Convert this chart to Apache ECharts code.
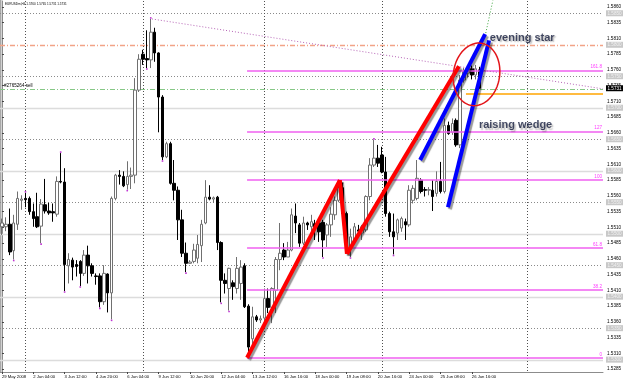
<!DOCTYPE html>
<html>
<head>
<meta charset="utf-8">
<script src="https://cdn.jsdelivr.net/npm/echarts@6/dist/echarts.min.js"></script>
<style>
  html, body { margin: 0; padding: 0; background: #ffffff; }
  #chart { width: 625px; height: 382px; }
</style>
</head>
<body>
<div id="chart"></div>
<script>
// EURUSDm H4, 29 May - 27 Jun 2008

// one label every 8 bars
var xTickLabels = ['29 May 2008', '2 Jun 04:00', '3 Jun 12:00', '4 Jun 20:00', '6 Jun 04:00',
    '9 Jun 12:00', '10 Jun 20:00', '12 Jun 04:00', '13 Jun 12:00', '16 Jun 16:00', '18 Jun 00:00',
    '19 Jun 08:00', '20 Jun 16:00', '24 Jun 00:00', '25 Jun 08:00', '26 Jun 16:00'];

var yTicks = [1.5285, 1.5310, 1.5335, 1.5360, 1.5385, 1.5410, 1.5435, 1.5460, 1.5485, 1.5510,
    1.5535, 1.5560, 1.5585, 1.5610, 1.5635, 1.5660, 1.5685, 1.5710, 1.5735, 1.5760, 1.5785,
    1.5810, 1.5835, 1.5860];

// [open, close, low, high]
var candles = [
    [1.5511, 1.5517, 1.5498, 1.5524], [1.5511, 1.5515, 1.5504, 1.5526], [1.5515, 1.5471, 1.5466, 1.5540],
    [1.5473, 1.5517, 1.5459, 1.5530], [1.5515, 1.5556, 1.5506, 1.5567], [1.5553, 1.5555, 1.5538, 1.5561],
    [1.5556, 1.5554, 1.5542, 1.5565], [1.5556, 1.5535, 1.5530, 1.5559], [1.5535, 1.5524, 1.5511, 1.5548],
    [1.5527, 1.5511, 1.5509, 1.5565], [1.5512, 1.5547, 1.5485, 1.5555], [1.5546, 1.5536, 1.5532, 1.5587],
    [1.5536, 1.5533, 1.5530, 1.5549], [1.5535, 1.5533, 1.5519, 1.5548], [1.5531, 1.5583, 1.5527, 1.5591],
    [1.5583, 1.5582, 1.5580, 1.5628], [1.5582, 1.5451, 1.5409, 1.5604], [1.5449, 1.5459, 1.5421, 1.5469],
    [1.5458, 1.5447, 1.5426, 1.5462], [1.5451, 1.5448, 1.5432, 1.5458], [1.5456, 1.5437, 1.5417, 1.5458],
    [1.5437, 1.5466, 1.5433, 1.5474], [1.5466, 1.5449, 1.5421, 1.5481], [1.5449, 1.5437, 1.5432, 1.5453],
    [1.5433, 1.5432, 1.5419, 1.5437], [1.5433, 1.5392, 1.5383, 1.5437], [1.5392, 1.5437, 1.5387, 1.5450],
    [1.5436, 1.5406, 1.5375, 1.5437], [1.5406, 1.5556, 1.5364, 1.5559], [1.5556, 1.5593, 1.5553, 1.5595],
    [1.5593, 1.5591, 1.5578, 1.5601], [1.5591, 1.5576, 1.5574, 1.5599], [1.5578, 1.5591, 1.5570, 1.5615],
    [1.5591, 1.5593, 1.5571, 1.5605], [1.5593, 1.5728, 1.5580, 1.5747], [1.5728, 1.5777, 1.5725, 1.5785],
    [1.5785, 1.5777, 1.5768, 1.5792], [1.5778, 1.5776, 1.5763, 1.5823], [1.5776, 1.5820, 1.5763, 1.5841],
    [1.5820, 1.5787, 1.5773, 1.5827], [1.5787, 1.5717, 1.5661, 1.5788], [1.5717, 1.5622, 1.5617, 1.5720],
    [1.5622, 1.5643, 1.5620, 1.5646], [1.5643, 1.5580, 1.5578, 1.5646], [1.5580, 1.5569, 1.5553, 1.5617],
    [1.5569, 1.5522, 1.5490, 1.5575], [1.5522, 1.5469, 1.5463, 1.5538], [1.5469, 1.5453, 1.5439, 1.5486],
    [1.5453, 1.5455, 1.5453, 1.5458], [1.5456, 1.5474, 1.5453, 1.5484], [1.5461, 1.5483, 1.5453, 1.5498],
    [1.5481, 1.5515, 1.5455, 1.5522], [1.5517, 1.5558, 1.5515, 1.5585], [1.5558, 1.5555, 1.5553, 1.5577],
    [1.5555, 1.5557, 1.5549, 1.5559], [1.5558, 1.5486, 1.5474, 1.5560], [1.5486, 1.5426, 1.5391, 1.5488],
    [1.5426, 1.5421, 1.5405, 1.5437], [1.5413, 1.5445, 1.5378, 1.5446], [1.5422, 1.5416, 1.5395, 1.5426],
    [1.5413, 1.5445, 1.5405, 1.5463], [1.5421, 1.5447, 1.5395, 1.5458], [1.5449, 1.5384, 1.5382, 1.5453],
    [1.5385, 1.5320, 1.5305, 1.5388], [1.5333, 1.5368, 1.5320, 1.5384], [1.5368, 1.5363, 1.5360, 1.5371],
    [1.5363, 1.5365, 1.5358, 1.5370], [1.5366, 1.5397, 1.5361, 1.5413], [1.5397, 1.5383, 1.5374, 1.5413],
    [1.5383, 1.5413, 1.5358, 1.5415], [1.5410, 1.5459, 1.5374, 1.5463], [1.5459, 1.5469, 1.5442, 1.5517],
    [1.5474, 1.5463, 1.5458, 1.5485], [1.5463, 1.5474, 1.5463, 1.5487], [1.5474, 1.5530, 1.5472, 1.5540],
    [1.5528, 1.5517, 1.5501, 1.5548], [1.5514, 1.5485, 1.5479, 1.5517], [1.5485, 1.5517, 1.5482, 1.5527],
    [1.5517, 1.5514, 1.5506, 1.5519], [1.5511, 1.5519, 1.5493, 1.5530], [1.5516, 1.5511, 1.5490, 1.5522],
    [1.5517, 1.5503, 1.5487, 1.5522], [1.5518, 1.5490, 1.5463, 1.5522], [1.5498, 1.5514, 1.5479, 1.5517],
    [1.5514, 1.5531, 1.5495, 1.5542], [1.5530, 1.5553, 1.5522, 1.5559], [1.5553, 1.5573, 1.5550, 1.5584],
    [1.5573, 1.5532, 1.5530, 1.5581], [1.5532, 1.5479, 1.5469, 1.5535], [1.5479, 1.5495, 1.5463, 1.5508],
    [1.5490, 1.5511, 1.5487, 1.5517], [1.5506, 1.5504, 1.5498, 1.5514], [1.5501, 1.5511, 1.5490, 1.5514],
    [1.5506, 1.5559, 1.5503, 1.5561], [1.5559, 1.5609, 1.5553, 1.5620], [1.5609, 1.5620, 1.5606, 1.5649],
    [1.5620, 1.5612, 1.5606, 1.5641], [1.5625, 1.5598, 1.5596, 1.5638], [1.5598, 1.5532, 1.5527, 1.5622],
    [1.5532, 1.5503, 1.5495, 1.5535], [1.5503, 1.5495, 1.5467, 1.5532], [1.5501, 1.5522, 1.5490, 1.5524],
    [1.5509, 1.5524, 1.5503, 1.5527], [1.5519, 1.5514, 1.5490, 1.5524], [1.5514, 1.5569, 1.5511, 1.5577],
    [1.5553, 1.5572, 1.5548, 1.5577], [1.5556, 1.5588, 1.5553, 1.5617], [1.5585, 1.5567, 1.5564, 1.5588],
    [1.5570, 1.5569, 1.5559, 1.5574], [1.5569, 1.5570, 1.5561, 1.5574], [1.5569, 1.5559, 1.5536, 1.5585],
    [1.5564, 1.5583, 1.5559, 1.5599], [1.5583, 1.5567, 1.5564, 1.5614], [1.5567, 1.5672, 1.5564, 1.5683],
    [1.5672, 1.5659, 1.5657, 1.5678], [1.5661, 1.5675, 1.5657, 1.5683], [1.5680, 1.5641, 1.5638, 1.5683],
    [1.5641, 1.5744, 1.5636, 1.5752], [1.5744, 1.5758, 1.5740, 1.5763], [1.5755, 1.5763, 1.5748, 1.5768],
    [1.5762, 1.5752, 1.5745, 1.5767], [1.5752, 1.5762, 1.5745, 1.5768], [1.5760, 1.5731, 1.5731, 1.5765]
];

// bars carrying a fractal marker
var fractalUp = [6, 15, 38, 95];
var fractalDown = [3, 10, 16, 20, 25, 28, 32, 37, 41, 47, 56, 58, 63, 82, 89, 100];

var slotCount = 154;            // bars + empty space on the right
var gridSolid = [1.5300, 1.5400, 1.5500, 1.5600, 1.5700];
var gridDotted = [1.5350, 1.5450, 1.5550, 1.5650, 1.5750, 1.5850];
var boxLevels = [1.5300, 1.5350, 1.5400, 1.5450, 1.5500, 1.5550, 1.5600, 1.5650, 1.5700, 1.5750, 1.5800, 1.5850];
var weekStarts = [6, 36, 67, 97, 134];

var fibLevels = [1.5303, 1.5411, 1.5477, 1.5585, 1.5662, 1.5759];
var fibNames = ['0', '38.2', '61.8', '100', '127', '161.8'];
var fibStart = 62.6;

var bidPrice = 1.5731;
var orderPrice = 1.5730;
var alertPrice = 1.5800;
var orangeLine = [[118.5, 1.5722], [153.5, 1.5722]];

// drawn objects, in bar units / price
var zigzag = [[62.6, 1.5303], [86.3, 1.5585], [88.1, 1.5468], [116.7, 1.5766]];
var wedgeUpper = [[106.8, 1.5617], [123.4, 1.5817]];
var wedgeLower = [[113.9, 1.5542], [124.4, 1.5807]];
var fibBase = [[38.3, 1.5841], [153.5, 1.5730]];
var greenRay = [[123.4, 1.5814], [125.4, 1.5871]];
var circle = [121.2, 1.5753, 5.9, 0.0050, 9];
var notes = [[124.6, 1.5811, 'evening star'], [121.8, 1.5672, 'raising wedge']];

var slots = [];
for (var i = 0; i < slotCount; i++) slots.push(i);

var chart = echarts.init(document.getElementById('chart'));

var tinyFont = 'Liberation Sans, Arial, sans-serif';

// horizontal guide styles: 0 grid, 1 dotted grid, 2 alert, 3 order
var guideStyles = [
    { color: '#dcdcdc', width: 1.5, dash: null },
    { color: '#8a8a8a', width: 1, dash: [1, 2] },
    { color: '#f2a387', width: 1.5, dash: [5, 2, 1, 2] },
    { color: '#86c886', width: 1.2, dash: [5, 2, 1, 2], text: '#2765264 sell' }
];
var guides = [];
gridSolid.forEach(function (v) { guides.push([v, 0]); });
gridDotted.forEach(function (v) { guides.push([v, 1]); });
guides.push([alertPrice, 2]);
guides.push([orderPrice, 3]);

// price tags on the right: 0 grey, 1 black (bid)
var tags = boxLevels.map(function (v) { return [v, 0]; });
tags.push([bidPrice, 1]);

var fractalDots = fractalUp.map(function (i) { return { value: [i, candles[i][3]], symbolOffset: [0, -1] }; })
    .concat(fractalDown.map(function (i) { return { value: [i, candles[i][2]], symbolOffset: [0, 1] }; }));

function drawLine(data, color, width, type, shadow, z) {
    return {
        type: 'line', xAxisIndex: 1, data: data, symbol: 'none', silent: true, z: z || 5,
        lineStyle: {
            color: color, width: width, type: type || 'solid',
            shadowColor: shadow ? 'rgba(0,0,0,0.4)' : 'transparent',
            shadowOffsetX: shadow ? 2 : 0, shadowOffsetY: shadow ? 2 : 0, shadowBlur: shadow ? 1 : 0
        }
    };
}

function fibLines() {
    return fibLevels.map(function (v, k) {
        return [
            { coord: [fibStart, v] },
            {
                coord: [slotCount - 0.5, v],
                label: {
                    show: true, position: 'insideEndTop', distance: 1,
                    formatter: fibNames[k], color: '#ff3cff',
                    fontSize: 4.6, fontFamily: tinyFont
                }
            }
        ];
    });
}

var option = {
    animation: false,
    backgroundColor: '#ffffff',
    grid: { left: 0, right: 22, top: 1, bottom: 10, outerBoundsMode: 'none' },
    xAxis: [{
        type: 'category',
        data: slots,
        boundaryGap: true,
        axisLine: { show: true, lineStyle: { color: '#8c8c8c', width: 1 } },
        axisTick: {
            show: true, alignWithLabel: true, length: 2,
            interval: function (i) { return i % 8 === 0 && i / 8 < xTickLabels.length; },
            lineStyle: { color: '#444' }
        },
        axisLabel: {
            interval: function (i) { return i % 8 === 0 && i / 8 < xTickLabels.length; },
            formatter: function (v, i) { return xTickLabels[i / 8] || ''; },
            align: 'left', margin: 3, fontSize: 4.2, color: '#000', fontFamily: tinyFont
        },
        splitLine: { show: false }
    }, {
        type: 'value', min: -0.5, max: slotCount - 0.5, show: false
    }],
    yAxis: {
        type: 'value', position: 'right',
        min: 1.52804, max: 1.58695,
        axisLine: { show: true, lineStyle: { color: '#8c8c8c', width: 1 } },
        axisTick: { show: true, customValues: yTicks, length: 2, lineStyle: { color: '#444' } },
        axisLabel: {
            customValues: yTicks, margin: 4, fontSize: 4.6, color: '#000', fontFamily: tinyFont,
            formatter: function (v) { return v.toFixed(4); }
        },
        splitLine: { show: false }
    },
    graphic: [{
        type: 'text', left: 5, top: 3, silent: true,
        style: { text: 'EURUSDm,H4 1.5760 1.5765 1.5731 1.5731', fontSize: 3.1, fill: '#000', fontFamily: tinyFont }
    }, {
        type: 'rect', left: 0, top: 0, silent: true,
        shape: { width: 1.5, height: 372 },
        style: { fill: '#a8a8a8' }
    }],
    series: [
        {
            // horizontal guides
            type: 'custom', xAxisIndex: 1, silent: true, z: 1, clip: false,
            data: guides,
            renderItem: function (params, api) {
                var cs = params.coordSys;
                var y = Math.round(api.coord([0, api.value(0)])[1]) + 0.5;
                var st = guideStyles[api.value(1)];
                var kids = [{
                    type: 'line',
                    shape: { x1: cs.x, y1: y, x2: cs.x + cs.width, y2: y },
                    style: { stroke: st.color, lineWidth: st.width, lineDash: st.dash }
                }];
                if (st.text) {
                    kids.push({
                        type: 'text', x: cs.x + 4, y: y - 1,
                        style: { text: st.text, fill: '#000', fontSize: 4.6, fontFamily: tinyFont, verticalAlign: 'bottom' }
                    });
                }
                return { type: 'group', children: kids };
            }
        },
        {
            // weekly separators
            type: 'custom', xAxisIndex: 1, silent: true, z: 1,
            data: weekStarts.map(function (w) { return [w, 1.55]; }),
            renderItem: function (params, api) {
                var cs = params.coordSys;
                var x = Math.round(api.coord([api.value(0), 1.55])[0]) + 0.5;
                return {
                    type: 'line',
                    shape: { x1: x, y1: cs.y, x2: x, y2: cs.y + cs.height },
                    style: { stroke: '#505050', lineWidth: 1, lineDash: [1, 2] }
                };
            }
        },
        {
            // price tags right of the plot
            type: 'custom', xAxisIndex: 1, silent: true, z: 10, clip: false,
            data: tags,
            renderItem: function (params, api) {
                var cs = params.coordSys;
                var y = api.coord([0, api.value(0)])[1];
                var dark = api.value(1) === 1;
                var x0 = cs.x + cs.width + 3;
                return {
                    type: 'group', children: [
                        { type: 'rect', shape: { x: x0, y: y - 3, width: 17, height: 6 },
                          style: { fill: dark ? '#000000' : '#c8c8c8' } },
                        { type: 'text', x: x0 + 1.5, y: y + 0.3,
                          style: { text: api.value(0).toFixed(4), fill: dark ? '#ffffff' : '#f2f2f2',
                                   fontSize: 4.6, fontFamily: tinyFont, verticalAlign: 'middle' } }
                    ]
                };
            }
        },
        {
            type: 'line', xAxisIndex: 1, data: [], silent: true, z: 3,
            markLine: {
                silent: true, symbol: 'none', animation: false,
                lineStyle: { color: '#f060f0', width: 1.5, type: 'solid' },
                data: fibLines()
            }
        },
        {
            type: 'candlestick',
            data: candles,
            barWidth: 3,
            z: 4,
            silent: true,
            itemStyle: {
                color: '#ffffff', color0: '#000000',
                borderColor: '#707070', borderColor0: '#000000', borderWidth: 1
            }
        },
        {
            type: 'scatter', xAxisIndex: 1, silent: true, z: 4,
            symbol: 'rect', symbolSize: 1.6,
            itemStyle: { color: '#b000c8' },
            data: fractalDots
        },
        drawLine(fibBase, '#b765b7', 1, [1, 2], false, 5),
        drawLine(orangeLine, '#ffa500', 1.5, 'solid', false, 5),
        drawLine(greenRay, '#3fa53f', 1, [1, 2], false, 5),
        drawLine(zigzag.slice(0, 2), '#ff0000', 4, 'solid', true, 6),
        drawLine(zigzag.slice(1, 3), '#ff0000', 4, 'solid', true, 6),
        drawLine(zigzag.slice(2, 4), '#ff0000', 4, 'solid', true, 6),
        drawLine(wedgeUpper, '#0000ff', 4, 'solid', true, 7),
        drawLine(wedgeLower, '#0000ff', 4, 'solid', true, 7),
        {
            type: 'custom', xAxisIndex: 1, silent: true, z: 8,
            data: [circle],
            renderItem: function (params, api) {
                var c = api.coord([api.value(0), api.value(1)]);
                var rx = api.size([api.value(2), 0])[0];
                var ry = api.size([0, api.value(3)])[1];
                var t = api.value(4) * Math.PI / 180;
                var pts = [];
                for (var k = 0; k < 90; k++) {
                    var a = k / 90 * Math.PI * 2;
                    var ex = rx * Math.cos(a), ey = ry * Math.sin(a);
                    pts.push([c[0] + ex * Math.cos(t) - ey * Math.sin(t),
                              c[1] + ex * Math.sin(t) + ey * Math.cos(t)]);
                }
                return {
                    type: 'polygon', shape: { points: pts },
                    style: { fill: 'none', stroke: '#e3151a', lineWidth: 1.5 }
                };
            }
        },
        {
            type: 'scatter', xAxisIndex: 1, silent: true, z: 9,
            symbolSize: 0,
            data: notes.map(function (n) { return { value: [n[0], n[1]], name: n[2] }; }),
            label: {
                show: true, position: 'right', distance: 0,
                formatter: function (p) { return p.name; },
                fontSize: 11, fontWeight: 'bold', color: '#141c3c',
                fontFamily: 'Liberation Sans, Arial, sans-serif',
                textShadowColor: 'rgba(0,0,0,0.35)', textShadowOffsetX: 1.5, textShadowOffsetY: 1.5, textShadowBlur: 1.5
            }
        }
    ]
};

chart.setOption(option);
</script>
</body>
</html>
